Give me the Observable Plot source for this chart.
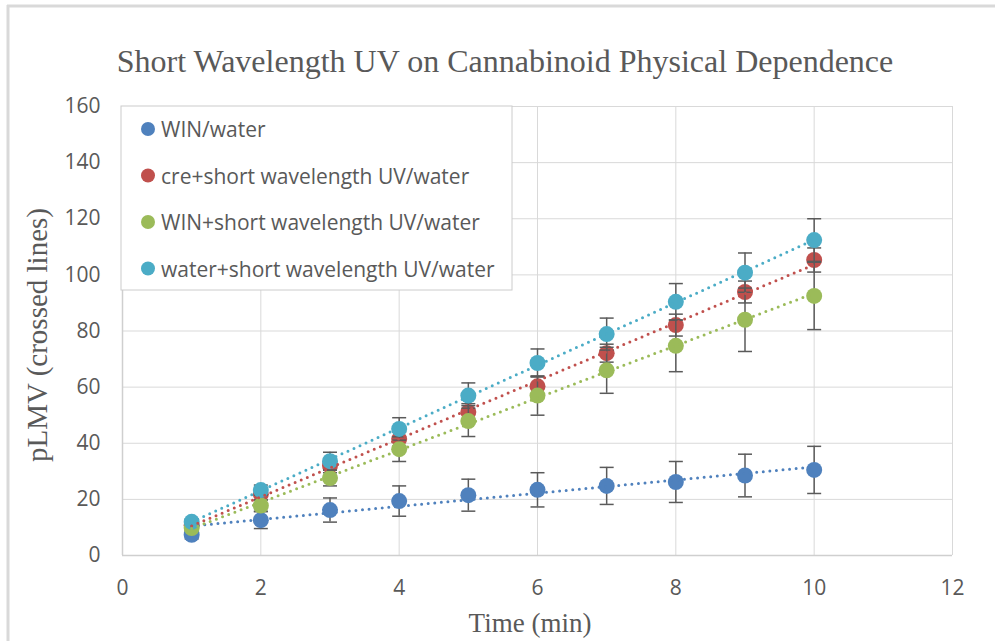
<!DOCTYPE html>
<html>
<head>
<meta charset="utf-8">
<script src="https://cdn.jsdelivr.net/npm/d3@7"></script>
<script src="https://cdn.jsdelivr.net/npm/@observablehq/plot@0.6"></script>
<style>
  html, body { margin: 0; padding: 0; background: #fff; }
  #chart { position: relative; width: 995px; height: 641px; overflow: hidden; }
</style>
</head>
<body>
<div id="chart"></div>
<script>
// ---- data ----
const times = [1, 2, 3, 4, 5, 6, 7, 8, 9, 10];
const seriesNames = [
  "WIN/water",
  "cre+short wavelength UV/water",
  "WIN+short wavelength UV/water",
  "water+short wavelength UV/water"
];
const seriesColors = ["#4F81BD", "#C0504D", "#9BBB59", "#4BACC6"];

const winWater      = [7.4, 12.6, 16.2, 19.4, 21.5, 23.4, 24.8, 26.2, 28.5, 30.5];
const winWaterErr   = [1.5, 3.0, 4.3, 5.4, 5.7, 6.1, 6.6, 7.3, 7.6, 8.4];
const creUV         = [10.8, 21.8, 32.0, 41.5, 51.1, 60.3, 72.1, 82.1, 93.9, 105.3];
const creUVErr      = [1.0, 2.0, 2.5, 2.5, 3.0, 3.5, 3.2, 3.9, 3.9, 4.3];
const winUV         = [9.8, 17.8, 27.6, 37.9, 47.9, 57.0, 66.0, 74.7, 84.0, 92.5];
const winUVErr      = [1.0, 2.0, 2.8, 4.4, 5.5, 7.0, 8.2, 9.2, 11.3, 12.0];
const waterUV       = [12.0, 23.3, 33.6, 45.1, 57.0, 68.6, 78.9, 90.4, 100.8, 112.4];
const waterUVErr    = [1.0, 1.8, 3.2, 4.0, 4.5, 5.0, 5.7, 6.5, 7.0, 7.6];

const xTicks = [0, 2, 4, 6, 8, 10, 12];
const yTicks = [0, 20, 40, 60, 80, 100, 120, 140, 160];

const titleText = "Short Wavelength UV on Cannabinoid Physical Dependence";
const xLabel = "Time (min)";
const yLabel = "pLMV (crossed lines)";

// ---- build table ----
const values = [winWater, creUV, winUV, waterUV];
const errors = [winWaterErr, creUVErr, winUVErr, waterUVErr];
const bySeries = seriesNames.map((name, s) =>
  times.map((t, i) => ({
    series: name,
    time: t,
    value: values[s][i],
    lo: values[s][i] - errors[s][i],
    hi: values[s][i] + errors[s][i]
  }))
);
const rows = bySeries.flat();

const capSymbol = {
  draw(context) {
    context.moveTo(-7, 0);
    context.lineTo(7, 0);
  }
};

const sans = "'Open Sans', 'DejaVu Sans', sans-serif";
const serif = "'Liberation Serif', 'DejaVu Serif', serif";
const textColor = "#595959";
const errColor = "#5a5a5a";

const seriesMarks = bySeries.flatMap(data => [
  Plot.ruleX(data, {x: "time", y1: "lo", y2: "hi", stroke: errColor, strokeWidth: 1.5}),
  Plot.dot(data, {x: "time", y: "lo", symbol: capSymbol, stroke: errColor, strokeWidth: 1.5, fill: "none", r: 5}),
  Plot.dot(data, {x: "time", y: "hi", symbol: capSymbol, stroke: errColor, strokeWidth: 1.5, fill: "none", r: 5}),
  Plot.dot(data, {x: "time", y: "value", fill: "series", r: 8})
]);

const chart = Plot.plot({
  width: 995,
  height: 641,
  marginLeft: 122,
  marginRight: 43,
  marginTop: 106,
  marginBottom: 86,
  style: {fontFamily: sans, fontSize: "21px", color: textColor, background: "white", overflow: "visible"},
  x: {domain: [0, 12], ticks: xTicks, tickSize: 0, tickPadding: 25, label: null, tickFormat: d => String(d)},
  y: {domain: [0, 160], ticks: yTicks, tickSize: 0, tickPadding: 22, label: null, tickFormat: d => String(d)},
  color: {domain: seriesNames, range: seriesColors},
  marks: [
    Plot.ruleX(xTicks.filter(d => d > 0), {stroke: "#d9d9d9", strokeWidth: 1}),
    Plot.ruleY(yTicks.filter(d => d > 0), {stroke: "#d9d9d9", strokeWidth: 1}),
    Plot.ruleX([0], {stroke: "#cfcfcf", strokeWidth: 1.5}),
    Plot.ruleY([0], {stroke: "#cfcfcf", strokeWidth: 1.5}),
    ...seriesMarks,
    Plot.linearRegressionY(rows, {
      x: "time", y: "value", stroke: "series", ci: 0,
      strokeWidth: 3, strokeDasharray: "0 6.6", strokeLinecap: "round"
    })
  ]
});

document.getElementById("chart").appendChild(chart);

// ---- decorations (frame, title, axis labels, legend) ----
const svg = d3.select(chart);
svg.append("line").attr("x1", 7).attr("x2", 995).attr("y1", 6).attr("y2", 6)
  .attr("stroke", "#d9d9d9").attr("stroke-width", 3);
svg.append("line").attr("x1", 8).attr("x2", 8).attr("y1", 5).attr("y2", 641)
  .attr("stroke", "#d9d9d9").attr("stroke-width", 3);

svg.append("text")
  .attr("x", 505).attr("y", 72)
  .attr("text-anchor", "middle")
  .attr("font-family", serif).attr("font-size", 32)
  .attr("fill", textColor)
  .text(titleText);

svg.append("text")
  .attr("x", 530).attr("y", 632)
  .attr("text-anchor", "middle")
  .attr("font-family", serif).attr("font-size", 27)
  .attr("fill", textColor)
  .text(xLabel);

svg.append("text")
  .attr("transform", "translate(37,335) rotate(-90)")
  .attr("text-anchor", "middle")
  .attr("dominant-baseline", "central")
  .attr("font-family", serif).attr("font-size", 29)
  .attr("fill", textColor)
  .text(yLabel);

const legend = svg.append("g");
legend.append("rect")
  .attr("x", 121).attr("y", 106).attr("width", 391).attr("height", 184)
  .attr("fill", "white").attr("stroke", "#cccccc").attr("stroke-width", 1);
seriesNames.forEach((name, i) => {
  const cy = 129 + i * 46.5;
  legend.append("circle").attr("cx", 148).attr("cy", cy).attr("r", 7).attr("fill", seriesColors[i]);
  legend.append("text")
    .attr("x", 161).attr("y", cy)
    .attr("text-anchor", "start")
    .attr("dominant-baseline", "central")
    .attr("font-family", sans).attr("font-size", 21)
    .attr("fill", textColor)
    .text(name);
});
</script>
</body>
</html>
